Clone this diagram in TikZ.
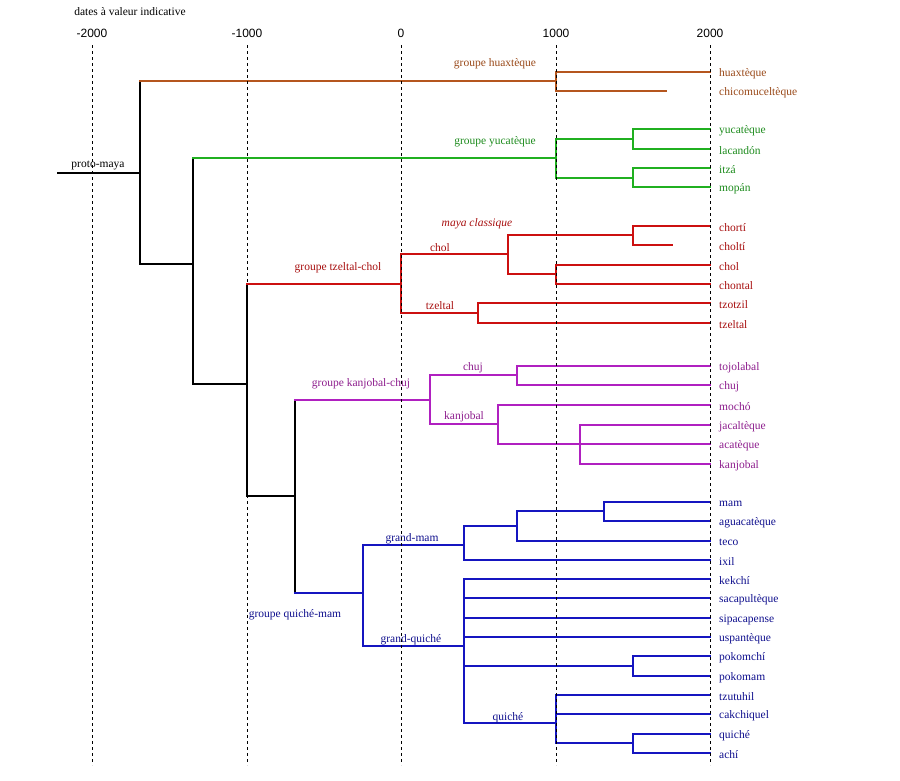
\documentclass[tikz,border=0pt]{standalone}
\usepackage{fontspec}
\setmainfont{Liberation Serif}
\setsansfont{Liberation Sans}
\usetikzlibrary{positioning}
\definecolor{brownln}{HTML}{B5561E}
\definecolor{browntx}{HTML}{9A4A1A}
\definecolor{greenln}{HTML}{20B020}
\definecolor{greentx}{HTML}{1E8C1E}
\definecolor{redln}{HTML}{CC1010}
\definecolor{redtx}{HTML}{A81010}
\definecolor{purpln}{HTML}{B020C0}
\definecolor{purptx}{HTML}{8E1E8E}
\definecolor{blueln}{HTML}{1515C0}
\definecolor{bluetx}{HTML}{10108E}
\tikzset{
  tree/.style={line width=1.8pt, line cap=rect},
  trunk/.style={tree, draw=black},
  leaf/.style={anchor=west, inner xsep=9pt, inner ysep=1pt, yshift=-1.5pt,
               font=\fontsize{11.5}{13}\selectfont},
  grp/.style={font=\fontsize{11.5}{13}\selectfont, inner sep=1pt, yshift=-1.5pt},
  grid/.style={dashed, line width=0.8pt, dash pattern=on 3pt off 3pt},
  tick/.style={font=\sffamily\fontsize{12}{14}\selectfont, inner sep=1pt}
}

\begin{document}
\begin{tikzpicture}[x=1pt,y=-1pt]
  \useasboundingbox[fill=white] (0,0) rectangle (900,780);

  % time axis
  \node[grp] (title) at (130,10) {dates à valeur indicative};
  \foreach \d/\x in {-2000/92, -1000/247, 0/401, 1000/556, 2000/710} {
     \node[tick] (d\d) at (\x,33) {\d};
  }

  % branch points
  \coordinate (pmstart) at (58,173);
  \coordinate (root) at (140,173);
  \coordinate (tA) at (193,264);
  \coordinate (tB) at (247,384);
  \coordinate (tC) at (295,496);
  \coordinate (ghuax) at (556,81);
  \coordinate (gyuc) at (556,158);
  \coordinate (gyuc1) at (633,139);
  \coordinate (gyuc2) at (633,178);
  \coordinate (gtzch) at (401,284);
  \coordinate (gchol) at (508,254);
  \coordinate (gclass) at (633,235);
  \coordinate (gchol2) at (556,274);
  \coordinate (gtzel) at (478,313);
  \coordinate (gkch) at (430,400);
  \coordinate (gchuj) at (517,375);
  \coordinate (gkanj) at (498,424);
  \coordinate (gkanj2) at (580,444);
  \coordinate (gqm) at (363,593);
  \coordinate (ggm) at (464,545);
  \coordinate (gmam1) at (517,526);
  \coordinate (gmam2) at (604,511);
  \coordinate (ggq) at (464,646);
  \coordinate (gpok) at (633,666);
  \coordinate (gqui) at (556,723);
  \coordinate (gqui2) at (633,743);
  % extinct languages stop short
  \coordinate (chicomu-end) at (666,91);
  \coordinate (cholti-end) at (672,245);

  % languages
  \foreach \n/\y/\t/\c in {huaxteque/72/huaxtèque/browntx, chicomu/91/chicomuceltèque/browntx,
      yucateque/129/yucatèque/greentx, lacandon/149/lacandón/greentx,
      itza/168/itzá/greentx, mopan/187/mopán/greentx,
      chorti/226/chortí/redtx, cholti/245/choltí/redtx, chol/265/chol/redtx,
      chontal/284/chontal/redtx, tzotzil/303/tzotzil/redtx, tzeltal/323/tzeltal/redtx,
      tojolabal/366/tojolabal/purptx, chuj/385/chuj/purptx, mocho/405/mochó/purptx,
      jacalteque/425/jacaltèque/purptx, acateque/444/acatèque/purptx, kanjobal/464/kanjobal/purptx,
      mam/502/mam/bluetx, aguacateque/521/aguacatèque/bluetx, teco/541/teco/bluetx,
      ixil/560/ixil/bluetx, kekchi/579/kekchí/bluetx, sacapulteque/598/sacapultèque/bluetx,
      sipacapense/618/sipacapense/bluetx, uspanteque/637/uspantèque/bluetx,
      pokomchi/656/pokomchí/bluetx, pokomam/676/pokomam/bluetx, tzutuhil/695/tzutuhil/bluetx,
      cakchiquel/714/cakchiquel/bluetx, quiche/734/quiché/bluetx, achi/753/achí/bluetx} {
     \node[leaf, text=\c] (\n) at (710,\y) {\t};
  }

  % trunk
  \draw[trunk] (pmstart) -- (root);
  \draw[trunk] (root) |- (tA);
  \draw[trunk] (tA) |- (tB);
  \draw[trunk] (tB) |- (tC);
  \foreach \p/\g/\c in {root/ghuax/brownln, tA/gyuc/greenln, tB/gtzch/redln,
                        tC/gkch/purpln, tC/gqm/blueln} {
     \draw[trunk] (\p) -- (\p |- \g);
     \draw[tree, draw=\c] (\p |- \g) -- (\g);
  }

  % inside the groups
  \foreach \p/\q/\c in {gyuc/gyuc1/greenln, gyuc/gyuc2/greenln,
      gtzch/gchol/redln, gtzch/gtzel/redln, gchol/gclass/redln, gchol/gchol2/redln,
      gclass/cholti-end/redln, ghuax/chicomu-end/brownln,
      gkch/gchuj/purpln, gkch/gkanj/purpln, gkanj/gkanj2/purpln,
      gqm/ggm/blueln, gqm/ggq/blueln, ggm/gmam1/blueln, gmam1/gmam2/blueln,
      ggq/gpok/blueln, ggq/gqui/blueln, gqui/gqui2/blueln} {
     \draw[tree, draw=\c] (\p) |- (\q);
  }
  \foreach \p/\l/\c in {ghuax/huaxteque/brownln,
      gyuc1/yucateque/greenln, gyuc1/lacandon/greenln, gyuc2/itza/greenln, gyuc2/mopan/greenln,
      gclass/chorti/redln, gchol2/chol/redln, gchol2/chontal/redln,
      gtzel/tzotzil/redln, gtzel/tzeltal/redln,
      gchuj/tojolabal/purpln, gchuj/chuj/purpln, gkanj/mocho/purpln,
      gkanj2/jacalteque/purpln, gkanj2/acateque/purpln, gkanj2/kanjobal/purpln,
      gmam2/mam/blueln, gmam2/aguacateque/blueln, gmam1/teco/blueln, ggm/ixil/blueln,
      ggq/kekchi/blueln, ggq/sacapulteque/blueln, ggq/sipacapense/blueln, ggq/uspanteque/blueln,
      gpok/pokomchi/blueln, gpok/pokomam/blueln, gqui/tzutuhil/blueln, gqui/cakchiquel/blueln,
      gqui2/quiche/blueln, gqui2/achi/blueln} {
     \draw[tree, draw=\c] (\p) |- ([yshift=1.5pt]\l.west);
  }

  % group names
  \node[grp] (lpm) at (98,164) {proto-maya};
  \node[grp, text=browntx] (lhuax) at (495,62) {groupe huaxtèque};
  \node[grp, text=greentx] (lyuc) at (495,140) {groupe yucatèque};
  \node[grp, text=redtx] (ltzch) at (338,266) {groupe tzeltal-chol};
  \node[grp, text=redtx, font=\fontsize{11.5}{13}\selectfont\itshape] (lclass) at (477,222) {maya classique};
  \node[grp, text=redtx] (lchol) at (440,246) {chol};
  \node[grp, text=redtx] (ltzel) at (440,304) {tzeltal};
  \node[grp, text=purptx] (lkch) at (361,382) {groupe kanjobal-chuj};
  \node[grp, text=purptx] (lchuj) at (473,366) {chuj};
  \node[grp, text=purptx] (lkanj) at (464,415) {kanjobal};
  \node[grp, text=bluetx] (lgm) at (412,537) {grand-mam};
  \node[grp, text=bluetx] (lqm) at (295,613) {groupe quiché-mam};
  \node[grp, text=bluetx] (lgq) at (411,638) {grand-quiché};
  \node[grp, text=bluetx] (lqui) at (508,716) {quiché};

  % dates
  \foreach \x in {92, 247, 401, 556, 710} {
     \draw[grid] (\x,45) -- (\x,765);
  }
\end{tikzpicture}
\end{document}
